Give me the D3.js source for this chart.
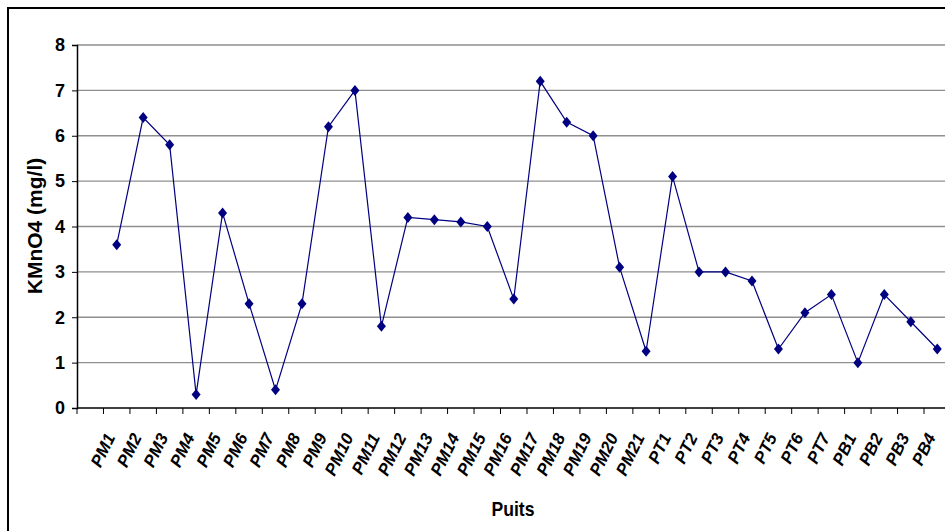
<!DOCTYPE html>
<html>
<head>
<meta charset="utf-8">
<script src="https://d3js.org/d3.v7.min.js"></script>
<style>
  body { margin: 0; background: #fff; }
  text { font-family: "Liberation Sans", Arial, sans-serif; font-weight: bold; fill: #000; }
  line.grid { stroke: #8f8f8f; stroke-width: 1.3px; }
</style>
</head>
<body>
<svg id="chart" width="945" height="531"></svg>
<script>
// wells (first band of the category axis is empty, as in the original)
const wells = ["PM1", "PM2", "PM3", "PM4", "PM5", "PM6", "PM7", "PM8", "PM9", "PM10",
  "PM11", "PM12", "PM13", "PM14", "PM15", "PM16", "PM17", "PM18", "PM19", "PM20",
  "PM21", "PT1", "PT2", "PT3", "PT4", "PT5", "PT6", "PT7", "PB1", "PB2", "PB3", "PB4"];
const kmno4 = [3.6, 6.4, 5.8, 0.3, 4.3, 2.3, 0.4, 2.3, 6.2, 7.0,
  1.8, 4.2, 4.15, 4.1, 4.0, 2.4, 7.2, 6.3, 6.0, 3.1,
  1.25, 5.1, 3.0, 3.0, 2.8, 1.3, 2.1, 2.5, 1.0, 2.5, 1.9, 1.3];
const yTicks = [0, 1, 2, 3, 4, 5, 6, 7, 8];

const svg = d3.select("#chart");
const plotL = 77, plotR = 950.5, plotT = 45, plotB = 408;

// outer frame (cut off on the right and bottom)
svg.append("rect")
  .attr("x", 8).attr("y", 8)
  .attr("width", 1000).attr("height", 600)
  .attr("fill", "none").attr("stroke", "#000").attr("stroke-width", 2);

const x = d3.scaleBand().domain([""].concat(wells)).range([plotL, plotR]).padding(0);
const y = d3.scaleLinear().domain([0, 8]).range([plotB, plotT]);

// gridlines
svg.append("g").selectAll("line")
  .data(yTicks.filter(d => d > 0))
  .join("line")
  .attr("class", "grid")
  .attr("x1", plotL).attr("x2", plotR)
  .attr("y1", d => y(d)).attr("y2", d => y(d));

// y axis
const yAxis = d3.axisLeft(y).tickValues(yTicks).tickSize(5).tickPadding(7);
const gy = svg.append("g").attr("transform", `translate(${plotL},0)`).call(yAxis);
gy.select(".domain").attr("stroke", "#000").attr("stroke-width", 1.5);
gy.selectAll(".tick line").attr("stroke", "#000");
gy.selectAll(".tick text")
  .attr("font-size", 18).attr("fill", "#000")
  .attr("font-family", "Liberation Sans, Arial, sans-serif").attr("font-weight", "bold");

// x axis line and tick marks at band edges
const edges = x.domain().map(d => x(d)).concat([plotR]);
svg.append("line")
  .attr("x1", plotL).attr("x2", plotR)
  .attr("y1", plotB).attr("y2", plotB)
  .attr("stroke", "#000").attr("stroke-width", 1.5);
svg.append("g").selectAll("line")
  .data(edges)
  .join("line")
  .attr("x1", d => d).attr("x2", d => d)
  .attr("y1", plotB).attr("y2", plotB + 6)
  .attr("stroke", "#000").attr("stroke-width", 1);

// category labels
const cx = d => x(d) + x.bandwidth() / 2;
svg.append("g").selectAll("text")
  .data(wells)
  .join("text")
  .attr("transform", d => `translate(${cx(d) - 1},437) rotate(-64)`)
  .attr("text-anchor", "end")
  .attr("font-size", 17)
  .attr("font-style", "italic")
  .text(d => d);

// axis titles
svg.append("text")
  .attr("transform", "translate(42,226) rotate(-90)")
  .attr("text-anchor", "middle")
  .attr("font-size", 21)
  .text("KMnO4 (mg/l)");
svg.append("text")
  .attr("x", 513).attr("y", 516)
  .attr("text-anchor", "middle")
  .attr("font-size", 20)
  .attr("transform", "translate(513,0) scale(0.88,1) translate(-513,0)")
  .text("Puits");

// series
const pts = wells.map((w, i) => ({ w: w, v: kmno4[i] }));
svg.append("path")
  .datum(pts)
  .attr("fill", "none")
  .attr("stroke", "#000080")
  .attr("stroke-width", 1.2)
  .attr("d", d3.line().x(d => cx(d.w)).y(d => y(d.v)));

svg.append("g").selectAll("path")
  .data(pts)
  .join("path")
  .attr("transform", d => `translate(${cx(d.w)},${y(d.v)})`)
  .attr("d", "M0,-5.5L4.5,0L0,5.5L-4.5,0Z")
  .attr("fill", "#000080");
</script>
</body>
</html>
